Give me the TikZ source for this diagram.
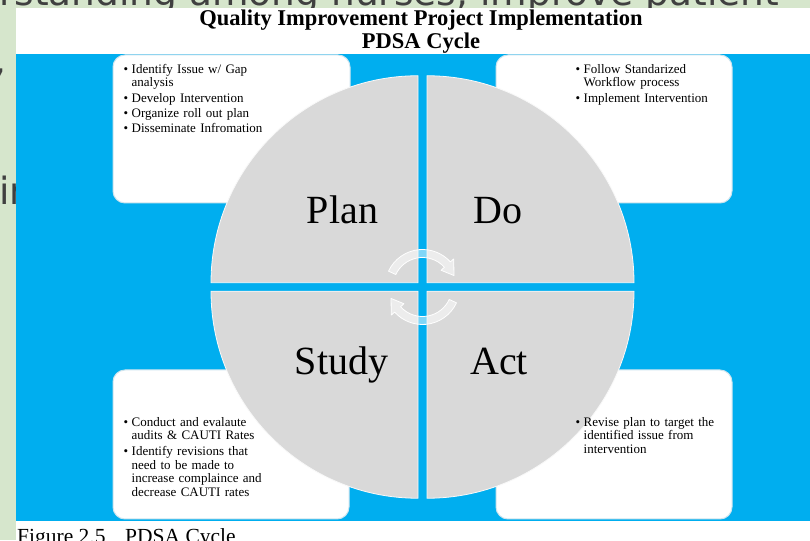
\documentclass[tikz,border=0pt]{standalone}
\usepackage{fontspec}
\setmainfont{Liberation Serif}
\newfontfamily\bgfont{DejaVu Sans}
\usetikzlibrary{calc}

\definecolor{sage}{RGB}{214,230,204}
\definecolor{skyblue}{RGB}{0,174,239}
\definecolor{quadgray}{RGB}{217,217,217}
\definecolor{inkgray}{RGB}{64,64,64}
\definecolor{boxedge}{RGB}{205,228,238}

% one bullet point with explicit line breaks
\newcommand\bpt[1]{\noindent\makebox[8pt][l]{\textbullet}\begin{tabular}[t]{@{}l@{}}#1\end{tabular}\par\vspace{1.5pt}}

\tikzset{
  infobox/.style={fill=white, draw=boxedge, line width=1pt, rounded corners=12pt,
    inner sep=0pt, outer sep=0pt},
  quadrant/.style={fill=quadgray, draw=white!85!quadgray, line width=0.8pt},
  phase/.style={font=\fontsize{40}{48}\selectfont, anchor=base, inner sep=0pt},
  notes/.style={anchor=north west, inner sep=0pt, text width=#1,
    font=\fontsize{13}{13.5}\selectfont, align=left},
  cyclearrow/.style={fill=white, fill opacity=0.5, draw=white, line width=0.8pt, line join=round},
  backtext/.style={font=\bgfont\fontsize{37.5}{45}\selectfont, text=inkgray,
    anchor=base west, inner sep=0pt},
  heading/.style={font=\bfseries\fontsize{22.5}{24}\selectfont, anchor=base, inner sep=0pt},
  caption/.style={font=\fontsize{21.5}{24}\selectfont, anchor=base west, inner sep=0pt},
}

\begin{document}
\begin{tikzpicture}[x=1pt,y=1pt]
\useasboundingbox (0,0) rectangle (810,540);

% page behind the figure
\fill[sage] (0,0) rectangle (810,540);
\node[backtext] (bg1) at (-24,534) {erstanding among nurses, improve patient};
\node[backtext] (bg2) at (-6,466) {,};
\node[backtext] (bg3) at (-1,335) {in};

% figure sheet
\fill[white] (16,0) rectangle (810,532);
\fill[skyblue] (16,19) rectangle (810,486);

% heading
\node[heading] (title1) at (421,514) {Quality Improvement Project Implementation};
\node[heading] (title2) at (421,491) {PDSA Cycle};

% note boxes
\node[infobox, minimum width=237pt, minimum height=148pt] (planbox)  at (231.5,411) {};
\node[infobox, minimum width=236pt, minimum height=148pt] (dobox)    at (614,411) {};
\node[infobox, minimum width=236pt, minimum height=149pt] (studybox) at (231,95.5) {};
\node[infobox, minimum width=236pt, minimum height=149pt] (actbox)   at (614,95.5) {};

% the four quadrants of the cycle
\draw[quadrant] (418,257.25) -- ++(0,207) arc[start angle=90, end angle=180, radius=207pt] -- cycle;
\draw[quadrant] (427,257.25) -- ++(207,0) arc[start angle=0, end angle=90, radius=207pt] -- cycle;
\draw[quadrant] (418,248.75) -- ++(-207,0) arc[start angle=180, end angle=270, radius=207pt] -- cycle;
\draw[quadrant] (427,248.75) -- ++(0,-207) arc[start angle=270, end angle=360, radius=207pt] -- cycle;

\node[phase] (plan)  at (342.5,316) {Plan};
\node[phase] (do)    at (498,316) {Do};
\node[phase] (study) at (341.5,165) {Study};
\node[phase] (act)   at (499,165) {Act};

% circular arrows at the hub
\coordinate (hub) at (422.5,253);
\draw[cyclearrow] ($(hub)+(155:37.5pt)$) arc[start angle=155, end angle=42, radius=37.5pt]
  -- ($(hub)+(42:42pt)$) -- ($(hub)+(20:33.5pt)$) -- ($(hub)+(42:25pt)$)
  -- ($(hub)+(42:29.5pt)$) arc[start angle=42, end angle=155, radius=29.5pt] -- cycle;
\draw[cyclearrow] ($(hub)+(335:37.5pt)$) arc[start angle=335, end angle=222, radius=37.5pt]
  -- ($(hub)+(222:42pt)$) -- ($(hub)+(200:33.5pt)$) -- ($(hub)+(222:25pt)$)
  -- ($(hub)+(222:29.5pt)$) arc[start angle=222, end angle=335, radius=29.5pt] -- cycle;

% notes
\node[notes=215pt] (plannotes) at (123.5,476.5) {%
  \bpt{Identify Issue w/ Gap\\analysis}%
  \bpt{Develop Intervention}%
  \bpt{Organize roll out plan}%
  \bpt{Disseminate Infromation}};
\node[notes=150pt] (donotes) at (575.5,476.5) {%
  \bpt{Follow Standarized\\Workflow process}%
  \bpt{Implement Intervention}};
\node[notes=215pt] (studynotes) at (123.5,123.2) {%
  \bpt{Conduct and evalaute\\audits \& CAUTI Rates}%
  \bpt{Identify revisions that\\need to be made to\\increase complaince and\\decrease CAUTI rates}};
\node[notes=150pt] (actnotes) at (575.5,123.2) {%
  \bpt{Revise plan to target the\\identified issue from\\intervention}};

% caption
\node[caption] (figlabel) at (17,-4) {Figure 2.5};
\node[caption] (figtitle) at (125,-4) {PDSA Cycle};
\end{tikzpicture}
\end{document}
